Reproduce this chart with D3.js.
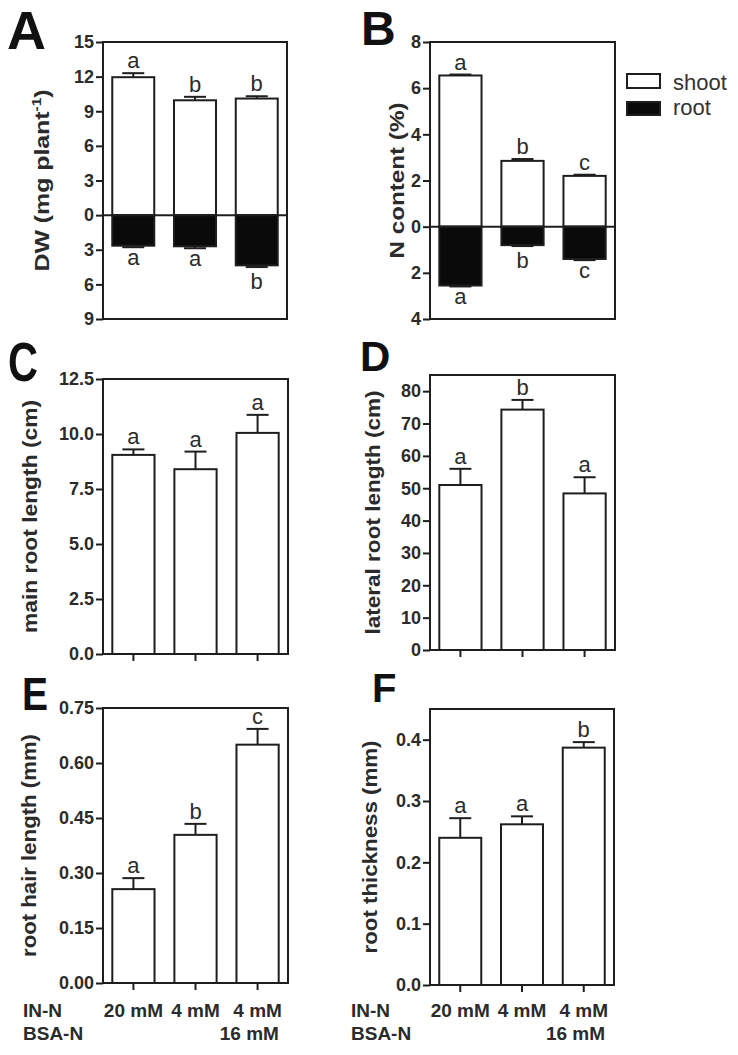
<!DOCTYPE html>
<html><head><meta charset="utf-8">
<script src="https://cdn.jsdelivr.net/npm/d3@7"></script>
<style>
body{margin:0;background:#fff}
svg{display:block}
text{font-family:"Liberation Sans",Arial,Helvetica,sans-serif}
</style>
</head><body>
<svg id="chart" width="738" height="1055"></svg>
<script>
// ---------------- DATA ----------------
const groups = ["g1", "g2", "g3"];
const inN = ["20 mM", "4 mM", "4 mM"];
const bsaN = ["", "", "16 mM"];
const rowLabels = ["IN-N", "BSA-N"];
const legendLabels = ["shoot", "root"];

const dwShoot = [11.95, 9.95, 10.1];
const dwShootErr = [0.35, 0.3, 0.2];
const dwShootSig = ["a", "b", "b"];
const dwRoot = [2.65, 2.7, 4.35];
const dwRootErr = [0.13, 0.17, 0.15];
const dwRootSig = ["a", "a", "b"];

const nShoot = [6.55, 2.85, 2.2];
const nShootErr = [0.04, 0.08, 0.05];
const nShootSig = ["a", "b", "c"];
const nRoot = [2.55, 0.8, 1.4];
const nRootErr = [0.04, 0.04, 0.05];
const nRootSig = ["a", "b", "c"];

const mainRoot = [9.05, 8.4, 10.05];
const mainRootErr = [0.25, 0.8, 0.82];
const mainRootSig = ["a", "a", "a"];

const latRoot = [51, 74.3, 48.4];
const latRootErr = [5, 3, 5];
const latRootSig = ["a", "b", "a"];

const hairLen = [0.256, 0.404, 0.65];
const hairLenErr = [0.03, 0.03, 0.043];
const hairLenSig = ["a", "b", "c"];

const thick = [0.24, 0.262, 0.387];
const thickErr = [0.032, 0.013, 0.009];
const thickSig = ["a", "a", "b"];

const ticksA = [-9, -6, -3, 0, 3, 6, 9, 12, 15];
const ticksB = [-4, -2, 0, 2, 4, 6, 8];
const ticksC = [0, 2.5, 5, 7.5, 10, 12.5];
const ticksD = [0, 10, 20, 30, 40, 50, 60, 70, 80];
const ticksE = [0, 0.15, 0.3, 0.45, 0.6, 0.75];
const ticksF = [0, 0.1, 0.2, 0.3, 0.4];

// ---------------- DRAWING ----------------
const svg = d3.select("#chart");
const INK = "#1e1e1e", TXT = "#2b2b2b";
const FONT = '"Liberation Sans",Arial,Helvetica,sans-serif';

const panels = [
  {letter:"A", box:[103,42,287,319], dom:[-9,15], ticks:ticksA, fmt:d=>Math.abs(d),
   pos:dwShoot, posErr:dwShootErr, posSig:dwShootSig, neg:dwRoot, negErr:dwRootErr, negSig:dwRootSig,
   label:"DW (mg plant", sup:"-1", labelEnd:")", labelX:41, labelLen:182,
   L:{x:7, y:49, size:54}, xticks:false},
  {letter:"B", box:[430,42,615,319], dom:[-4,8], ticks:ticksB, fmt:d=>Math.abs(d),
   pos:nShoot, posErr:nShootErr, posSig:nShootSig, neg:nRoot, negErr:nRootErr, negSig:nRootSig,
   label:"N content (%)", labelX:396, labelLen:156,
   L:{x:361, y:45, size:48}, xticks:false, legend:true},
  {letter:"C", box:[103,379,288,654], dom:[0,12.5], ticks:ticksC, fmt:d3.format(".1f"),
   pos:mainRoot, posErr:mainRootErr, posSig:mainRootSig,
   label:"main root length (cm)", labelX:29, labelLen:233,
   L:{x:8, y:381, size:56, len:30}, xticks:true},
  {letter:"D", box:[430,375,615,650], dom:[0,85], ticks:ticksD, fmt:d3.format("d"),
   pos:latRoot, posErr:latRootErr, posSig:latRootSig,
   label:"lateral root length (cm)", labelX:372, labelLen:244,
   L:{x:360, y:371, size:42}, xticks:true},
  {letter:"E", box:[103,708,288,983], dom:[0,0.75], ticks:ticksE, fmt:d3.format(".2f"),
   pos:hairLen, posErr:hairLenErr, posSig:hairLenSig,
   label:"root hair length (mm)", labelX:28, labelLen:223,
   L:{x:22, y:710, size:46, len:26}, xticks:true, cats:true, rowX:23},
  {letter:"F", box:[430,709,614,985], dom:[0,0.45], ticks:ticksF, fmt:d3.format(".1f"),
   pos:thick, posErr:thickErr, posSig:thickSig,
   label:"root thickness (mm)", labelX:369, labelLen:213,
   L:{x:372, y:702, size:40}, xticks:true, cats:true, rowX:351}
];

const SIGSIZE = 22;
function glyphTop(ch){ return /[bdfhklt]/.test(ch) ? 0.73*SIGSIZE : 0.53*SIGSIZE; }

panels.forEach(p => {
  const [x0,y0,x1,y1] = p.box;
  const g = svg.append("g");
  const x = d3.scaleBand().domain(d3.range(groups.length)).range([x0,x1])
              .paddingInner(0.32).paddingOuter(0.15);
  const y = d3.scaleLinear().domain(p.dom).range([y1,y0]);
  const cx = i => x(i) + x.bandwidth()/2;

  // y axis
  const ax = g.append("g").attr("transform",`translate(${x0},0)`)
    .call(d3.axisLeft(y).tickValues(p.ticks).tickFormat(p.fmt).tickSize(7).tickPadding(2));
  ax.select(".domain").remove();
  ax.selectAll(".tick line").attr("stroke",INK).attr("stroke-width",2);
  ax.selectAll(".tick text").attr("fill",TXT).attr("font-size",18).attr("font-weight","bold")
    .attr("font-family",FONT);

  // positive bars (white)
  g.selectAll(".pbar").data(p.pos).join("rect")
    .attr("x",(d,i)=>x(i)).attr("width",x.bandwidth())
    .attr("y",d=>y(d)).attr("height",d=>y(0)-y(d))
    .attr("fill","#fff").attr("stroke",INK).attr("stroke-width",2);
  // error bars positive
  p.pos.forEach((v,i)=>{
    const e = p.posErr[i];
    g.append("line").attr("x1",cx(i)).attr("x2",cx(i)).attr("y1",y(v)).attr("y2",y(v+e))
      .attr("stroke",INK).attr("stroke-width",2);
    g.append("line").attr("x1",cx(i)-11).attr("x2",cx(i)+11).attr("y1",y(v+e)).attr("y2",y(v+e))
      .attr("stroke",INK).attr("stroke-width",2);
    g.append("text").attr("x",cx(i)).attr("y",y(v+e)-5).attr("text-anchor","middle")
      .attr("font-size",SIGSIZE).attr("fill",TXT).attr("font-family",FONT).text(p.posSig[i]);
  });

  // negative bars (black)
  if (p.neg) {
    g.selectAll(".nbar").data(p.neg).join("rect")
      .attr("x",(d,i)=>x(i)).attr("width",x.bandwidth())
      .attr("y",y(0)).attr("height",d=>y(-d)-y(0))
      .attr("fill","#0a0a0a").attr("stroke",INK).attr("stroke-width",2);
    p.neg.forEach((v,i)=>{
      const e = p.negErr[i];
      g.append("line").attr("x1",cx(i)).attr("x2",cx(i)).attr("y1",y(-v)).attr("y2",y(-v-e))
        .attr("stroke",INK).attr("stroke-width",2);
      g.append("line").attr("x1",cx(i)-11).attr("x2",cx(i)+11).attr("y1",y(-v-e)).attr("y2",y(-v-e))
        .attr("stroke",INK).attr("stroke-width",2);
      const s = p.negSig[i];
      g.append("text").attr("x",cx(i)).attr("y",y(-v-e)+6+glyphTop(s)).attr("text-anchor","middle")
        .attr("font-size",SIGSIZE).attr("fill",TXT).attr("font-family",FONT).text(s);
    });
    // zero line
    g.append("line").attr("x1",x0).attr("x2",x1).attr("y1",y(0)).attr("y2",y(0))
      .attr("stroke",INK).attr("stroke-width",2);
  }

  // frame
  g.append("rect").attr("x",x0).attr("y",y0).attr("width",x1-x0).attr("height",y1-y0)
    .attr("fill","none").attr("stroke",INK).attr("stroke-width",2);

  // x ticks
  if (p.xticks) {
    g.selectAll(".xt").data(groups).join("line")
      .attr("x1",(d,i)=>cx(i)).attr("x2",(d,i)=>cx(i)).attr("y1",y1).attr("y2",y1+7)
      .attr("stroke",INK).attr("stroke-width",2);
  }

  // y label
  const yl = g.append("text")
    .attr("transform",`translate(${p.labelX},${(y0+y1)/2}) rotate(-90)`)
    .attr("text-anchor","middle").attr("dy","0.36em")
    .attr("font-size",21).attr("font-weight","bold").attr("fill",TXT).attr("font-family",FONT)
    .attr("textLength",p.labelLen).attr("lengthAdjust","spacingAndGlyphs");
  yl.append("tspan").text(p.label);
  if (p.sup) {
    yl.append("tspan").attr("font-size",13).attr("dy","-0.55em").text(p.sup);
    yl.append("tspan").attr("dy","0.36em").text(p.labelEnd);
  }

  // panel letter
  const lt = svg.append("text").attr("x",p.L.x).attr("y",p.L.y)
    .attr("font-size",p.L.size).attr("font-weight","bold").attr("fill","#111")
    .attr("font-family",FONT).text(p.letter);
  if (p.L.len) lt.attr("textLength",p.L.len).attr("lengthAdjust","spacingAndGlyphs");

  // category labels
  if (p.cats) {
    const ys = [1017, 1040];
    [inN, bsaN].forEach((arr,r)=>{
      svg.append("text").attr("x",p.rowX).attr("y",ys[r])
        .attr("font-size",19).attr("font-weight","bold").attr("fill",TXT).attr("font-family",FONT)
        .text(rowLabels[r]);
    });
    inN.forEach((t,i)=>{
      const t1 = svg.append("text").attr("x",cx(i)).attr("y",ys[0]).attr("text-anchor","middle")
        .attr("font-size",19).attr("font-weight","bold").attr("fill",TXT).attr("font-family",FONT)
        .text(t);
      if (bsaN[i]) {
        const bb = t1.node().getBBox();
        svg.append("text").attr("x",bb.x+bb.width-3).attr("y",ys[1]).attr("text-anchor","end")
          .attr("font-size",19).attr("font-weight","bold").attr("fill",TXT).attr("font-family",FONT)
          .text(bsaN[i]);
      }
    });
  }

  // legend
  if (p.legend) {
    const lg = svg.append("g");
    const fills = ["#fff","#0a0a0a"];
    const boxes = [[627,74,33,14],[627,102,33,13]];
    const bl = [90, 115];
    legendLabels.forEach((t,k)=>{
      lg.append("rect").attr("x",boxes[k][0]).attr("y",boxes[k][1])
        .attr("width",boxes[k][2]).attr("height",boxes[k][3])
        .attr("fill",fills[k]).attr("stroke",INK).attr("stroke-width",2);
      lg.append("text").attr("x",673).attr("y",bl[k]).attr("font-size",22)
        .attr("fill","#333").attr("font-family",FONT).text(t);
    });
  }
});
</script>
</body></html>
